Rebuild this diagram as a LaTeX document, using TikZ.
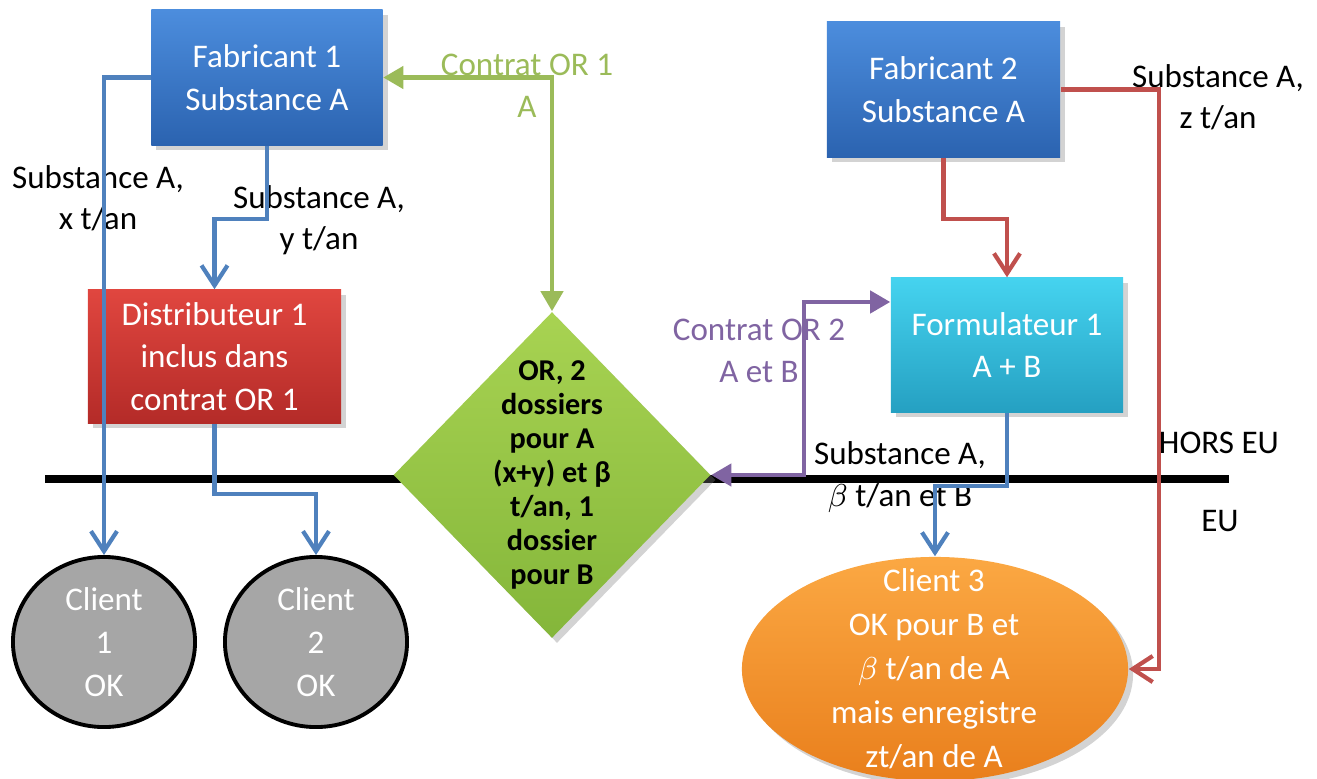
\documentclass[tikz,border=0pt]{standalone}
\usepackage{fontspec}
\setmainfont{Carlito}
\usetikzlibrary{shapes.geometric,arrows.meta,shadows}
\definecolor{fabtop}{HTML}{4C8DDD}
\definecolor{fabbot}{HTML}{2B63B0}
\definecolor{disttop}{HTML}{E0463F}
\definecolor{distbot}{HTML}{B42B28}
\definecolor{formtop}{HTML}{45D3EF}
\definecolor{formbot}{HTML}{25A0C2}
\definecolor{diatop}{HTML}{A8D352}
\definecolor{diabot}{HTML}{84B63A}
\definecolor{cthreetop}{HTML}{FBA843}
\definecolor{cthreebot}{HTML}{E97F1C}
\definecolor{cgray}{HTML}{A6A6A6}
\definecolor{arblue}{HTML}{4F81BD}
\definecolor{arred}{HTML}{C0504D}
\definecolor{argreen}{HTML}{9BBB59}
\definecolor{arpurple}{HTML}{8064A2}
\begin{document}
\begin{tikzpicture}[x=0.01cm,y=-0.01cm,
  shad/.style={drop shadow={opacity=0.35,shadow xshift=0.05cm,shadow yshift=-0.05cm}},
  boxbase/.style={rectangle, inner sep=0pt, align=center, text=white,
     font=\fontsize{9.4}{12.1}\selectfont, shad},
  fabbox/.style={boxbase, top color=fabtop, bottom color=fabbot,
     minimum width=2.31cm, minimum height=1.35cm},
  distbox/.style={boxbase, top color=disttop, bottom color=distbot,
     minimum width=2.53cm, minimum height=1.33cm},
  formbox/.style={boxbase, top color=formtop, bottom color=formbot,
     minimum width=2.32cm, minimum height=1.34cm},
  clientshape/.style={ellipse, draw=black, line width=1.1pt, fill=cgray,
     minimum width=1.82cm, minimum height=1.70cm, inner sep=0pt},
  whitetext/.style={align=center, text=white, inner sep=0pt,
     font=\fontsize{9.4}{12.2}\selectfont},
  lbl/.style={align=center, inner sep=0pt, font=\fontsize{9.4}{11.8}\selectfont},
  blueline/.style={draw=arblue, line width=1.2pt,
     -{Straight Barb[length=0.2cm,width=0.26cm]}},
  redline/.style={draw=arred, line width=1.2pt,
     -{Straight Barb[length=0.2cm,width=0.26cm]}},
  greenline/.style={draw=argreen, line width=1.2pt,
     {Triangle[length=0.2cm,width=0.22cm]}-{Triangle[length=0.2cm,width=0.22cm]}},
  purpleline/.style={draw=arpurple, line width=1.2pt,
     {Triangle[length=0.2cm,width=0.22cm]}-{Triangle[length=0.2cm,width=0.22cm]}}
]
\useasboundingbox (0,0) rectangle (1317,778);

% border line HORS EU / EU
\coordinate (lineL) at (45,479);
\coordinate (lineR) at (1229,479);
\draw[line width=2.3pt, black] (lineL) -- (lineR);

% nodes
\node[fabbox] (fab1) at (267,77.5) {Fabricant 1\\Substance A};
\node[fabbox, minimum width=2.33cm] (fab2) at (943.5,89.5) {Fabricant 2\\Substance A};
\node[distbox] (dist) at (214.5,356.5) {Distributeur 1\\inclus dans\\contrat OR 1};
\node[formbox] (form) at (1007,345) {Formulateur 1\\A + B};

\node[diamond, minimum width=3.17cm, minimum height=3.26cm, inner sep=0pt,
      top color=diatop, bottom color=diabot, shad] (dia) at (552,475) {};
\node[align=center, inner sep=0pt, font=\bfseries\fontsize{8.6}{9.7}\selectfont] (diatext) at (552,475)
  {OR, 2\\dossiers\\pour A\\(x+y) et β\\t/an, 1\\dossier\\pour B};

\node[clientshape] (client1) at (104,642) {};
\node[whitetext] (client1t) at (104,642) {Client\\1\\OK};
\node[clientshape] (client2) at (316,642) {};
\node[whitetext] (client2t) at (316,642) {Client\\2\\OK};

\node[ellipse, minimum width=3.86cm, minimum height=2.24cm, inner sep=0pt,
      top color=cthreetop, bottom color=cthreebot, shad] (client3) at (935,669) {};
\node[whitetext, font=\fontsize{9.4}{12.5}\selectfont] (client3t) at (934,669)
  {Client 3\\OK pour B et\\$\beta$ t/an de A\\mais enregistre\\zt/an de A};

% labels
\node[lbl] (lx) at (98,198) {Substance A,\\x t/an};
\node[lbl] (ly) at (319,220) {Substance A,\\y t/an};
\node[lbl] (lz) at (1218,97) {Substance A,\\z t/an};
\node[lbl] (lb) at (900,477) {Substance A,\\$\beta$ t/an et B};
\node[lbl, text=argreen] (lg) at (527,86) {Contrat OR 1\\A};
\node[lbl, text=arpurple] (lp) at (759,351) {Contrat OR 2\\A et B};
\node[lbl] (hors) at (1219,443) {HORS EU};
\node[lbl] (eu) at (1220,521) {EU};

% connectors
\draw[blueline] (fab1.west) -| (client1.north);
\draw[blueline] (fab1.south) -- ++(0,73) -| (dist.north);
\draw[blueline] (dist.south) -- ++(0,70) -| (client2.north);
\draw[greenline] (fab1.east) -| (dia.north);
\draw[redline] (fab2.south) -- ++(0,61) -| (form.north);
\draw[redline] (fab2.east) -- ++(98,0) |- (client3.east);
\draw[purpleline] (dia.east) -- ++(93,0) |- ([yshift=0.43cm]form.west);
\draw[blueline] (form.south) -- ++(0,73) -| (client3.north);
\end{tikzpicture}
\end{document}
